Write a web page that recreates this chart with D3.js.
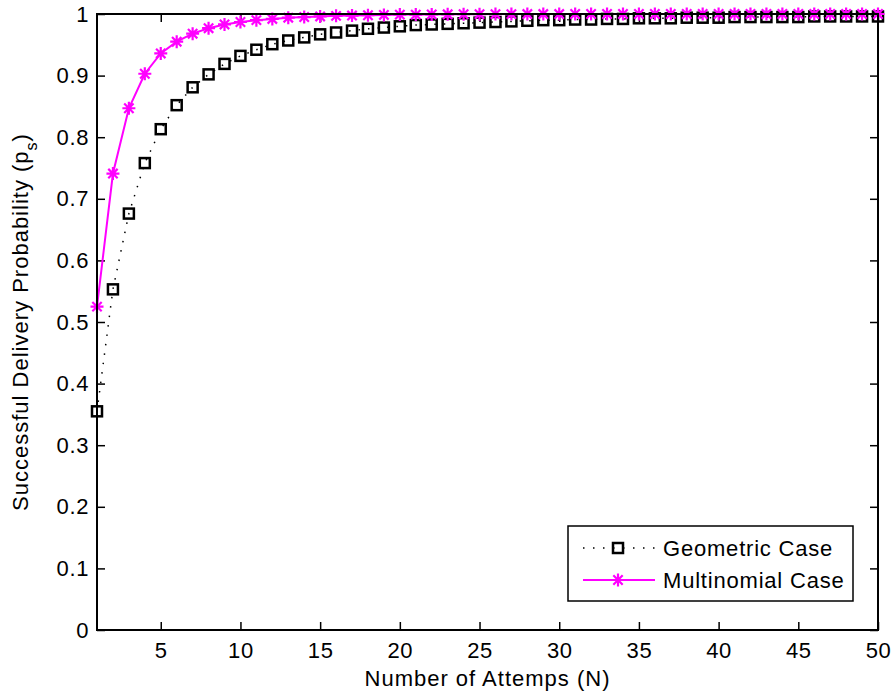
<!DOCTYPE html>
<html>
<head>
<meta charset="utf-8">
<script src="https://cdn.jsdelivr.net/npm/d3@7"></script>
<style>
  html, body { margin: 0; padding: 0; background: #fff; }
  svg { display: block; font-family: "Liberation Sans", Arial, Helvetica, sans-serif; }
</style>
</head>
<body>
<svg id="chart" width="894" height="699"></svg>
<script>
// Number of attempts N = 1..50
const attempts = d3.range(1, 51);

// Geometric case: success probability per N
const geometric = [
  0.355, 0.553, 0.676, 0.758, 0.813, 0.852, 0.881, 0.902, 0.919, 0.932,
  0.942, 0.951, 0.957, 0.962, 0.967, 0.970, 0.973, 0.976, 0.978, 0.980,
  0.982, 0.983, 0.984, 0.985, 0.986, 0.987, 0.988, 0.989, 0.990, 0.990,
  0.991, 0.991, 0.992, 0.992, 0.993, 0.993, 0.993, 0.994, 0.994, 0.994,
  0.995, 0.995, 0.995, 0.995, 0.995, 0.996, 0.996, 0.996, 0.996, 0.996
];

// Multinomial case: success probability per N
const multinomial = [
  0.525, 0.741, 0.847, 0.903, 0.936, 0.955, 0.968, 0.977, 0.983, 0.987,
  0.990, 0.992, 0.994, 0.995, 0.996, 0.997, 0.9975, 0.998, 0.9985, 0.999,
  0.999, 0.9993, 0.9995, 0.9996, 0.9997, 0.9998, 0.9998, 0.9999, 0.9999, 0.9999,
  1, 1, 1, 1, 1, 1, 1, 1, 1, 1,
  1, 1, 1, 1, 1, 1, 1, 1, 1, 1
];

const xTicks = [5, 10, 15, 20, 25, 30, 35, 40, 45, 50];
const yTicks = [0, 0.1, 0.2, 0.3, 0.4, 0.5, 0.6, 0.7, 0.8, 0.9, 1];
const seriesNames = ["Geometric Case", "Multinomial Case"];

const svg = d3.select("#chart");
const margin = { left: 97, right: 16, top: 14, bottom: 69 };
const W = 894, H = 699;
const x = d3.scaleLinear().domain([1, 50]).range([margin.left, W - margin.right]);
const y = d3.scaleLinear().domain([0, 1]).range([H - margin.bottom, margin.top]);

const magenta = "#ff00ff";
const tickLen = 8;
const fontSize = 22;
const spacing = "0.6px";

// Ticks on all four sides, pointing inward
const g = svg.append("g");
const axBottom = d3.axisBottom(x).tickValues(xTicks).tickSizeInner(-tickLen).tickSizeOuter(0).tickPadding(12).tickFormat(d3.format("d"));
const axTop = d3.axisTop(x).tickValues(xTicks).tickSizeInner(-tickLen).tickSizeOuter(0).tickFormat("");
const axLeft = d3.axisLeft(y).tickValues(yTicks).tickSizeInner(-tickLen).tickSizeOuter(0).tickPadding(8).tickFormat(d => d === 0 ? "0" : d === 1 ? "1" : d3.format(".1f")(d));
const axRight = d3.axisRight(y).tickValues(yTicks).tickSizeInner(-tickLen).tickSizeOuter(0).tickFormat("");

function styleAxis(sel) {
  sel.select(".domain").remove();
  sel.selectAll(".tick line").attr("stroke", "#000").attr("stroke-width", 1.5);
  sel.selectAll(".tick text").attr("fill", "#000").style("font-size", fontSize + "px")
    .style("font-family", "Liberation Sans, Arial, sans-serif").style("letter-spacing", spacing);
}
g.append("g").attr("transform", `translate(0,${y(0)})`).call(axBottom).call(styleAxis);
g.append("g").attr("transform", `translate(0,${y(1)})`).call(axTop).call(styleAxis);
g.append("g").attr("transform", `translate(${x(1)},0)`).call(axLeft).call(styleAxis);
g.append("g").attr("transform", `translate(${x(50)},0)`).call(axRight).call(styleAxis);

// Axis labels
svg.append("text")
  .attr("x", (x(1) + x(50)) / 2).attr("y", 686)
  .attr("text-anchor", "middle").style("font-size", fontSize + "px").style("letter-spacing", "1px")
  .text("Number of Attemps (N)");

const yl = svg.append("text")
  .attr("transform", `translate(28,${(y(0) + y(1)) / 2}) rotate(-90)`)
  .attr("text-anchor", "middle").style("font-size", fontSize + "px").style("letter-spacing", "1px");
yl.append("tspan").text("Successful Delivery Probability (p");
yl.append("tspan").attr("baseline-shift", "sub").style("font-size", "16px").text("s");
yl.append("tspan").text(")");

// Series lines
const line = d3.line().x((d, i) => x(attempts[i])).y(d => y(d));
svg.append("path").datum(geometric).attr("d", line)
  .attr("fill", "none").attr("stroke", "#000").attr("stroke-width", 1.5)
  .attr("stroke-dasharray", "1.5,8").attr("stroke-linecap", "butt");
svg.append("path").datum(multinomial).attr("d", line)
  .attr("fill", "none").attr("stroke", magenta).attr("stroke-width", 2);

// Markers
const sq = 10;
function square(sel) {
  sel.append("rect").attr("x", -sq / 2).attr("y", -sq / 2).attr("width", sq).attr("height", sq)
    .attr("fill", "none").attr("stroke", "#000").attr("stroke-width", 2.5);
}
const st = 6.5;
const starPath = `M${-st},0L${st},0M0,${-st}L0,${st}M${-st * 0.72},${-st * 0.72}L${st * 0.72},${st * 0.72}M${-st * 0.72},${st * 0.72}L${st * 0.72},${-st * 0.72}`;
function star(sel) {
  sel.append("path").attr("d", starPath).attr("stroke", magenta).attr("stroke-width", 2.2).attr("fill", "none");
}
svg.append("g").selectAll("g").data(geometric).join("g")
  .attr("transform", (d, i) => `translate(${x(attempts[i])},${y(d)})`).call(square);
svg.append("g").selectAll("g").data(multinomial).join("g")
  .attr("transform", (d, i) => `translate(${x(attempts[i])},${y(d)})`).call(star);

// Plot box
svg.append("rect").attr("x", x(1)).attr("y", y(1)).attr("width", x(50) - x(1)).attr("height", y(0) - y(1))
  .attr("fill", "none").attr("stroke", "#000").attr("stroke-width", 2);

// Legend
const lg = svg.append("g").attr("transform", "translate(568,526)");
lg.append("rect").attr("width", 285).attr("height", 75).attr("fill", "#fff").attr("stroke", "#000").attr("stroke-width", 1.5);
const rows = [
  { name: seriesNames[0], y: 22, draw: s => { s.append("line").attr("x1", 15).attr("x2", 87).attr("stroke", "#000").attr("stroke-width", 1.5).attr("stroke-dasharray", "1.5,8.5"); s.append("g").attr("transform", "translate(50,0)").call(square); } },
  { name: seriesNames[1], y: 54, draw: s => { s.append("line").attr("x1", 15).attr("x2", 87).attr("stroke", magenta).attr("stroke-width", 2); s.append("g").attr("transform", "translate(50,0)").call(star); } }
];
rows.forEach(r => {
  const row = lg.append("g").attr("transform", `translate(0,${r.y})`);
  r.draw(row);
  row.append("text").attr("x", 95).attr("dy", "0.35em").style("font-size", fontSize + "px").style("letter-spacing", "0.8px").text(r.name);
});
</script>
</body>
</html>
